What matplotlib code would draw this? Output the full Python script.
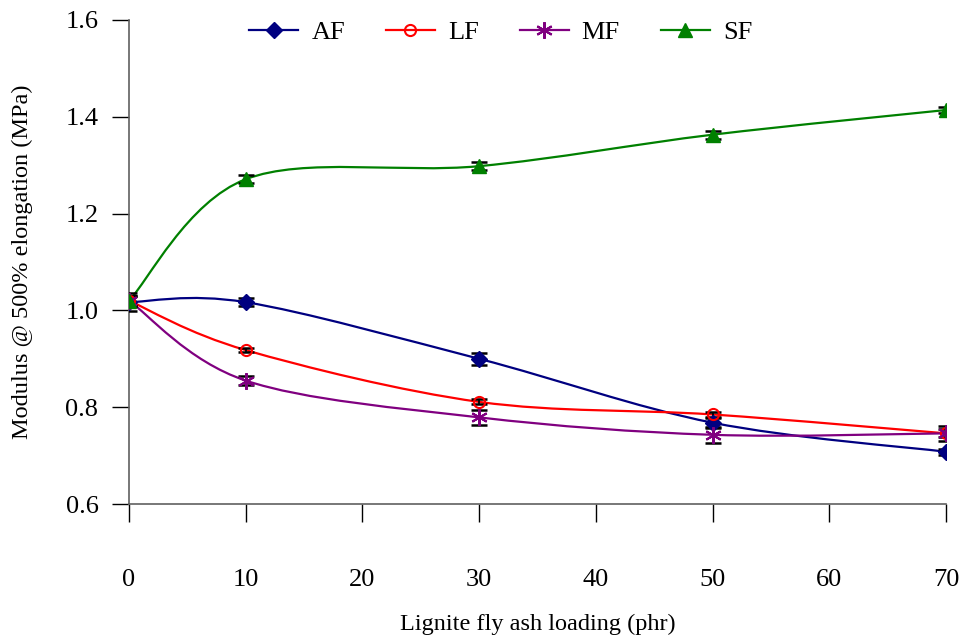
import numpy as np
import matplotlib.pyplot as plt
from matplotlib.path import Path as MPath
from matplotlib.patches import PathPatch
from matplotlib.lines import Line2D

plt.rcParams["font.family"] = ["Liberation Serif", "DejaVu Serif"]

loading = [0, 10, 30, 50, 70]

af = [1.017, 1.017, 0.900, 0.768, 0.708]
lf = [1.020, 0.918, 0.811, 0.785, 0.746]
mf = [1.020, 0.855, 0.779, 0.743, 0.746]
sf = [1.020, 1.271, 1.298, 1.363, 1.414]

af_err = [0.019, 0.008, 0.012, 0.010, 0.006]
lf_err = [0.010, 0.004, 0.005, 0.005, 0.008]
mf_err = [0.010, 0.010, 0.016, 0.016, 0.016]
sf_err = [0.010, 0.008, 0.008, 0.008, 0.006]

series = [
    ("AF", af, af_err, "#000080", dict(marker="D", markersize=8, markerfacecolor="#000080")),
    ("LF", lf, lf_err, "#FF0000", dict(marker="o", markersize=8, markerfacecolor="none",
                                       markeredgewidth=1.5)),
    ("MF", mf, mf_err, "#800080", dict(marker=(6, 2, 0), markersize=12, markeredgewidth=1.5)),
    ("SF", sf, sf_err, "#008000", dict(marker="^", markersize=10, markerfacecolor="#008000")),
]


def smooth_path(x, y):
    """Piecewise cubic Bezier through the points, like a spreadsheet 'smoothed line'."""
    pts = np.column_stack([x, y]).astype(float)
    n = len(pts)
    verts = [pts[0]]
    codes = [MPath.MOVETO]
    for i in range(n - 1):
        p0 = pts[i - 1] if i > 0 else pts[i]
        p1, p2 = pts[i], pts[i + 1]
        p3 = pts[i + 2] if i + 2 < n else pts[i + 1]
        c1 = p1 + (p2 - p0) / 6.0
        c2 = p2 - (p3 - p1) / 6.0
        verts += [c1, c2, p2]
        codes += [MPath.CURVE4] * 3
    return MPath(verts, codes)


fig = plt.figure(figsize=(9.62, 6.36), dpi=100)
ax = fig.add_axes([0.1341, 0.2075, 0.8493, 0.7611])

handles = []
for name, vals, err, color, mk in series:
    ax.add_patch(PathPatch(smooth_path(loading, vals), facecolor="none",
                           edgecolor=color, linewidth=1.6, zorder=2))
    ax.errorbar(loading, vals, yerr=err, fmt="none", ecolor="black",
                elinewidth=1.3, capsize=6, capthick=1.8, zorder=3)
    ax.plot(loading, vals, linestyle="none", color=color, zorder=4, **mk)
    handles.append(Line2D([], [], color=color, linewidth=1.6, **mk))

ax.set_xlim(0, 70)
ax.set_ylim(0.6, 1.6)
ax.set_xticks(range(0, 71, 10))
ax.set_yticks(np.arange(0.6, 1.61, 0.2))
ax.set_yticklabels([f"{v:.1f}" for v in np.arange(0.6, 1.61, 0.2)])

for side in ("top", "right"):
    ax.spines[side].set_visible(False)
for side in ("left", "bottom"):
    ax.spines[side].set_color("#606060")
    ax.spines[side].set_linewidth(1.2)

ax.tick_params(axis="x", direction="out", length=13, width=1.0, pad=34, labelsize=19)
ax.tick_params(axis="y", direction="out", length=12, width=1.0, pad=10, labelsize=19)

ax.set_xlabel("Lignite fly ash loading (phr)", fontsize=17.5, labelpad=16)
ax.set_ylabel("Modulus @ 500% elongation (MPa)", fontsize=17.5, labelpad=23)

ax.legend(handles, ["AF", "LF", "MF", "SF"], loc="upper center",
          bbox_to_anchor=(0.455, 1.048), ncol=4, frameon=False, fontsize=19,
          handlelength=1.85, columnspacing=1.55, handletextpad=0.5)

fig.savefig("out.png", dpi=100)
